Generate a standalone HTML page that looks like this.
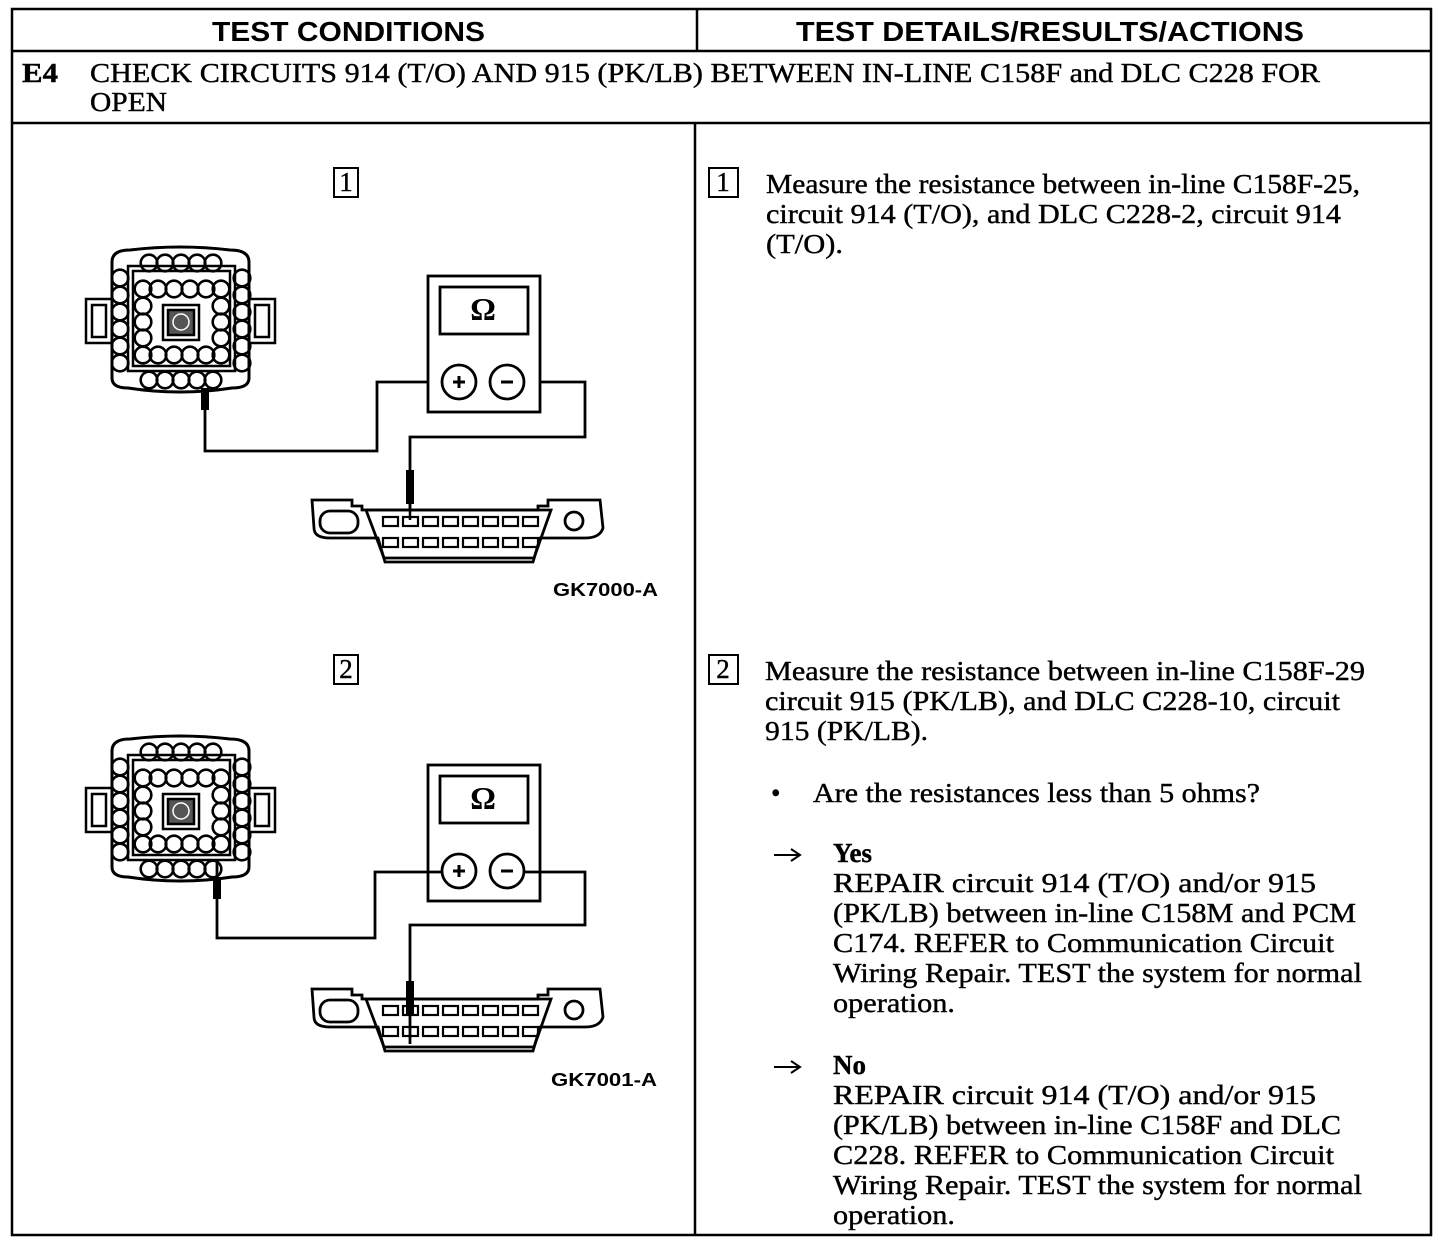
<!DOCTYPE html>
<html><head><meta charset="utf-8"><style>
html,body{margin:0;padding:0;background:#fff;}
svg{display:block;}
.s{font-family:"Liberation Serif",serif;font-size:27px;fill:#000;stroke:#000;stroke-width:0.4;}
.h{font-family:"Liberation Sans",sans-serif;font-weight:bold;font-size:28px;fill:#000;}
.g{font-family:"Liberation Sans",sans-serif;font-weight:bold;font-size:18px;fill:#000;}
</style></head><body>
<svg width="1440" height="1248" viewBox="0 0 1440 1248" xmlns="http://www.w3.org/2000/svg">
<defs>
<g id="conn" fill="none" stroke="#000" stroke-width="2.5">
  <rect x="86" y="299" width="26" height="44" />
  <rect x="92" y="305" width="14" height="32" />
  <rect x="249" y="299" width="26" height="44" />
  <rect x="255" y="305" width="14" height="32" />
  <path d="M112 262 Q112 250 130 250 Q180 244 230 250 Q249 250 249 262 L249 378 Q249 388 232 388 Q180 396 128 388 Q112 388 112 378 Z" fill="#fff" stroke-width="3"/>
  <rect x="128" y="266" width="107" height="105" />
  <rect x="133" y="271" width="97" height="95" />
  <g stroke-width="2.6">
  <circle cx="149" cy="263" r="8.3"/><circle cx="165" cy="263" r="8.3"/><circle cx="181" cy="263" r="8.3"/><circle cx="197" cy="263" r="8.3"/><circle cx="213" cy="263" r="8.3"/>
  <circle cx="149" cy="380" r="8.3"/><circle cx="165" cy="380" r="8.3"/><circle cx="181" cy="380" r="8.3"/><circle cx="197" cy="380" r="8.3"/><circle cx="213" cy="380" r="8.3"/>
  <circle cx="120" cy="278" r="8.3"/><circle cx="120" cy="295" r="8.3"/><circle cx="120" cy="312" r="8.3"/><circle cx="120" cy="329" r="8.3"/><circle cx="120" cy="346" r="8.3"/><circle cx="120" cy="363" r="8.3"/>
  <circle cx="242" cy="278" r="8.3"/><circle cx="242" cy="295" r="8.3"/><circle cx="242" cy="312" r="8.3"/><circle cx="242" cy="329" r="8.3"/><circle cx="242" cy="346" r="8.3"/><circle cx="242" cy="363" r="8.3"/>
  <circle cx="143" cy="289" r="8.3"/><circle cx="158" cy="289" r="8.3"/><circle cx="174" cy="289" r="8.3"/><circle cx="190" cy="289" r="8.3"/><circle cx="206" cy="289" r="8.3"/><circle cx="221" cy="289" r="8.3"/>
  <circle cx="143" cy="355" r="8.3"/><circle cx="158" cy="355" r="8.3"/><circle cx="174" cy="355" r="8.3"/><circle cx="190" cy="355" r="8.3"/><circle cx="206" cy="355" r="8.3"/><circle cx="221" cy="355" r="8.3"/>
  <circle cx="143" cy="306" r="8.3"/><circle cx="143" cy="322" r="8.3"/><circle cx="143" cy="338" r="8.3"/>
  <circle cx="221" cy="306" r="8.3"/><circle cx="221" cy="322" r="8.3"/><circle cx="221" cy="338" r="8.3"/>
  </g>
  <rect x="163" y="305" width="36" height="35"/>
  <rect x="168" y="310" width="26" height="25" fill="#555"/>
  <circle cx="181" cy="322" r="8" stroke="#fff" stroke-width="1.5"/>
</g>
<g id="meter" fill="none" stroke="#000" stroke-width="2.8">
  <rect x="428" y="276" width="112" height="136" fill="#fff"/>
  <rect x="440" y="287" width="88" height="47"/>
  <circle cx="459" cy="382" r="17" fill="#fff"/>
  <circle cx="507" cy="382" r="17" fill="#fff"/>
  <path d="M453 382 h12 M459 376 v12" stroke-width="3"/>
  <path d="M501 382 h12" stroke-width="3"/>
</g>
<g id="dlc" fill="none" stroke="#000" stroke-width="2.8">
  <path d="M312 500 h40 v6 h10 v4 h176 v-4 h10 v-6 h52 l3 28 Q600 538 585 538 L540 538 L533 562 L385 562 L378 538 L330 538 Q314 538 314 528 Z" fill="#fff"/>
  <path d="M366 510 L551 510 L534 558 L384 558 Z"/>
  <rect x="320" y="511" width="38" height="22" rx="10"/>
  <circle cx="574" cy="521" r="9"/>
  <g stroke-width="2.2">
  <rect x="383" y="517" width="15" height="9"/><rect x="403" y="517" width="15" height="9"/><rect x="423" y="517" width="15" height="9"/><rect x="443" y="517" width="15" height="9"/><rect x="463" y="517" width="15" height="9"/><rect x="483" y="517" width="15" height="9"/><rect x="503" y="517" width="15" height="9"/><rect x="523" y="517" width="15" height="9"/>
  <rect x="383" y="538" width="15" height="9"/><rect x="403" y="538" width="15" height="9"/><rect x="423" y="538" width="15" height="9"/><rect x="443" y="538" width="15" height="9"/><rect x="463" y="538" width="15" height="9"/><rect x="483" y="538" width="15" height="9"/><rect x="503" y="538" width="15" height="9"/><rect x="523" y="538" width="15" height="9"/>
  </g>
</g>
</defs>

<g fill="none" stroke="#000" stroke-width="2.5">
  <rect x="12" y="9" width="1419" height="1226"/>
  <line x1="12" y1="51" x2="1431" y2="51"/>
  <line x1="12" y1="123" x2="1431" y2="123"/>
  <line x1="697" y1="9" x2="697" y2="51"/>
  <line x1="695" y1="123" x2="695" y2="1235"/>
</g>
<text class="h" x="212" y="41" textLength="273" lengthAdjust="spacingAndGlyphs">TEST CONDITIONS</text>
<text class="h" x="796" y="41" textLength="508" lengthAdjust="spacingAndGlyphs">TEST DETAILS/RESULTS/ACTIONS</text>
<text class="s" x="22" y="82" font-weight="bold" textLength="36" lengthAdjust="spacingAndGlyphs">E4</text>
<text class="s" x="90" y="82" textLength="1230" lengthAdjust="spacingAndGlyphs">CHECK CIRCUITS 914 (T/O) AND 915 (PK/LB) BETWEEN IN-LINE C158F and DLC C228 FOR</text>
<text class="s" x="90" y="111" textLength="77" lengthAdjust="spacingAndGlyphs">OPEN</text>

<g fill="none" stroke="#000" stroke-width="2">
  <rect x="334" y="168" width="24" height="29"/>
  <rect x="334" y="655" width="24" height="29"/>
  <rect x="709" y="168" width="29" height="29"/>
  <rect x="709" y="655" width="29" height="29"/>
</g>
<text class="s" x="346" y="191" font-size="20" text-anchor="middle">1</text>
<text class="s" x="346" y="678" font-size="20" text-anchor="middle">2</text>
<text class="s" x="723" y="191" font-size="20" text-anchor="middle">1</text>
<text class="s" x="723" y="678" font-size="20" text-anchor="middle">2</text>

<g fill="none" stroke="#000" stroke-width="2.8">
  <path d="M205 410 V451 H377 V382 H442"/>
  <path d="M524 382 H585 V437 H410 V522"/>
  <path d="M205 372 V392"/>
</g>
<use href="#conn"/>
<use href="#meter"/>
<use href="#dlc"/>
<rect x="201" y="388" width="8" height="22" fill="#000"/>
<rect x="406" y="470" width="8" height="34" fill="#000"/>
<line x1="410" y1="500" x2="410" y2="520" stroke="#000" stroke-width="2.5"/>
<text x="483" y="320" font-family="Liberation Serif,serif" font-size="32" font-weight="bold" text-anchor="middle">Ω</text>
<text class="g" x="553" y="596" textLength="105" lengthAdjust="spacingAndGlyphs">GK7000-A</text>

<g transform="translate(0,489)">
  <use href="#conn"/>
  <use href="#meter"/>
  <use href="#dlc"/>
  <g fill="none" stroke="#000" stroke-width="2.8">
    <path d="M217 410 V449 H375 V383 H442"/>
    <path d="M524 383 H585 V436 H410 V555"/>
    <path d="M217 372 V392"/>
  </g>
  <rect x="213" y="388" width="8" height="22" fill="#000"/>
  <rect x="406" y="492" width="8" height="34" fill="#000"/>
  <text x="483" y="320" font-family="Liberation Serif,serif" font-size="32" font-weight="bold" text-anchor="middle">Ω</text>
</g>
<text class="g" x="551" y="1086" textLength="106" lengthAdjust="spacingAndGlyphs">GK7001-A</text>

<text class="s" x="766" y="193" textLength="594" lengthAdjust="spacingAndGlyphs">Measure the resistance between in-line C158F-25,</text>
<text class="s" x="766" y="223" textLength="575" lengthAdjust="spacingAndGlyphs">circuit 914 (T/O), and DLC C228-2, circuit 914</text>
<text class="s" x="766" y="253" textLength="77" lengthAdjust="spacingAndGlyphs">(T/O).</text>

<text class="s" x="765" y="680" textLength="600" lengthAdjust="spacingAndGlyphs">Measure the resistance between in-line C158F-29</text>
<text class="s" x="765" y="710" textLength="575" lengthAdjust="spacingAndGlyphs">circuit 915 (PK/LB), and DLC C228-10, circuit</text>
<text class="s" x="765" y="740" textLength="163" lengthAdjust="spacingAndGlyphs">915 (PK/LB).</text>
<text class="s" x="771" y="802">•</text>
<text class="s" x="813" y="802" textLength="447" lengthAdjust="spacingAndGlyphs">Are the resistances less than 5 ohms?</text>

<g fill="none" stroke="#000" stroke-width="2">
  <path d="M774 855 H799 M791 849 L800 855 L791 861"/>
  <path d="M774 1067 H799 M791 1061 L800 1067 L791 1073"/>
</g>
<text class="s" x="833" y="862" font-weight="bold">Yes</text>
<text class="s" x="833" y="892" textLength="483" lengthAdjust="spacingAndGlyphs">REPAIR circuit 914 (T/O) and/or 915</text>
<text class="s" x="833" y="922" textLength="523" lengthAdjust="spacingAndGlyphs">(PK/LB) between in-line C158M and PCM</text>
<text class="s" x="833" y="952" textLength="501" lengthAdjust="spacingAndGlyphs">C174. REFER to Communication Circuit</text>
<text class="s" x="833" y="982" textLength="529" lengthAdjust="spacingAndGlyphs">Wiring Repair. TEST the system for normal</text>
<text class="s" x="833" y="1012" textLength="122" lengthAdjust="spacingAndGlyphs">operation.</text>

<text class="s" x="833" y="1074" font-weight="bold">No</text>
<text class="s" x="833" y="1104" textLength="483" lengthAdjust="spacingAndGlyphs">REPAIR circuit 914 (T/O) and/or 915</text>
<text class="s" x="833" y="1134" textLength="508" lengthAdjust="spacingAndGlyphs">(PK/LB) between in-line C158F and DLC</text>
<text class="s" x="833" y="1164" textLength="501" lengthAdjust="spacingAndGlyphs">C228. REFER to Communication Circuit</text>
<text class="s" x="833" y="1194" textLength="529" lengthAdjust="spacingAndGlyphs">Wiring Repair. TEST the system for normal</text>
<text class="s" x="833" y="1224" textLength="122" lengthAdjust="spacingAndGlyphs">operation.</text>
</svg>
</body></html>
